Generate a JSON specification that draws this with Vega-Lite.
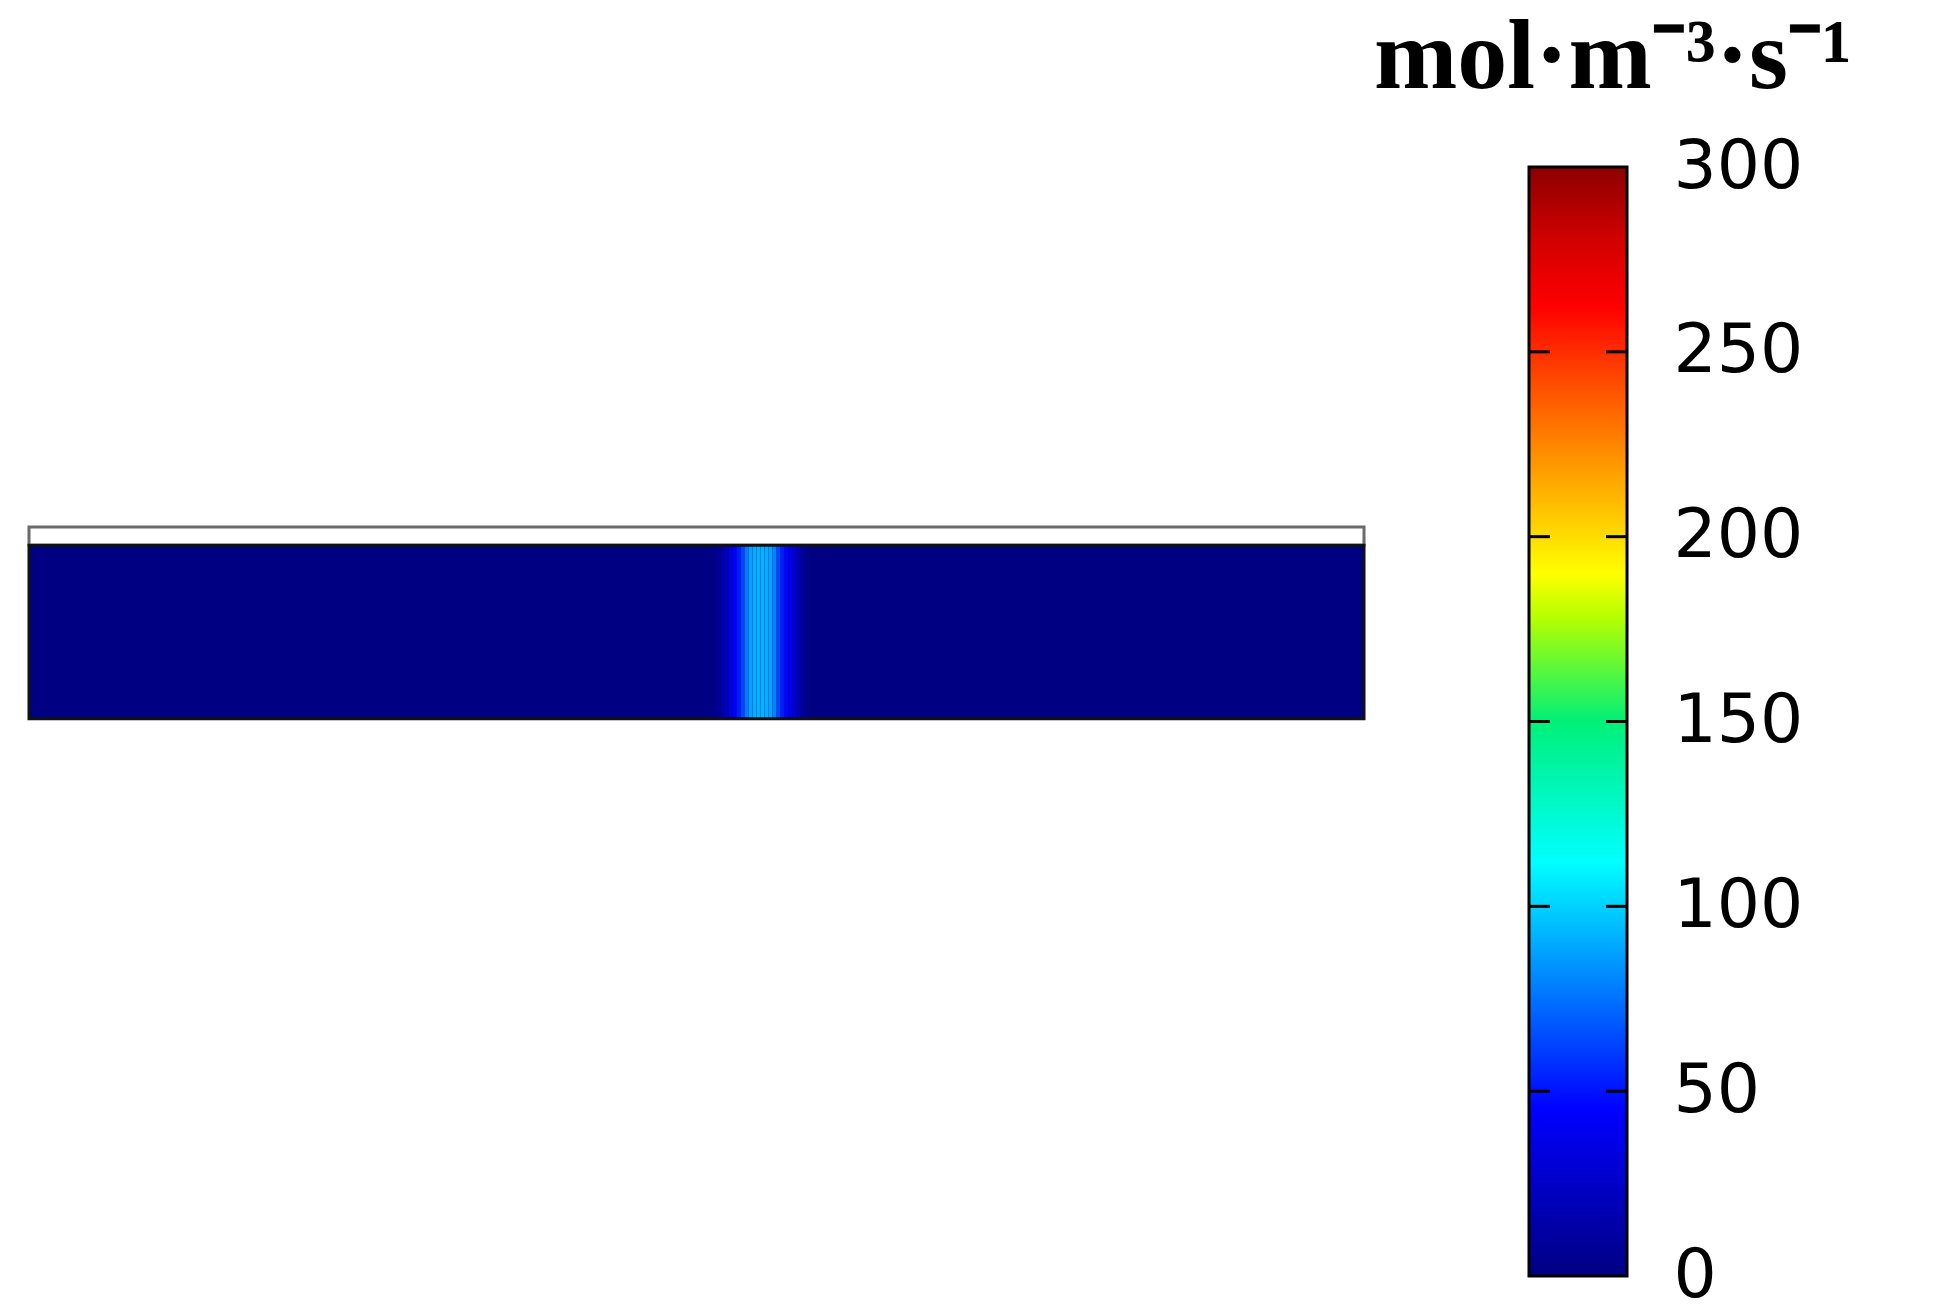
{
  "$schema": "https://vega.github.io/schema/vega-lite/v6.json",
  "background": "white",
  "padding": {"left": 27, "top": 8, "right": 5, "bottom": 5},
  "bounds": "flush",
  "spacing": 165,
  "config": {"view": {"stroke": null}},
  "datasets": {
    "field": [
      {"x0": 0, "x1": 100, "rate": 0},
      {"x0": 51.2, "x1": 51.5, "rate": 3},
      {"x0": 51.5, "x1": 51.8, "rate": 7},
      {"x0": 51.8, "x1": 52.1, "rate": 13},
      {"x0": 52.1, "x1": 52.4, "rate": 22},
      {"x0": 52.4, "x1": 52.7, "rate": 34},
      {"x0": 52.7, "x1": 53.0, "rate": 44},
      {"x0": 53.0, "x1": 53.3, "rate": 52},
      {"x0": 53.3, "x1": 53.6, "rate": 63},
      {"x0": 53.6, "x1": 53.9, "rate": 78},
      {"x0": 53.9, "x1": 54.2, "rate": 88},
      {"x0": 54.2, "x1": 54.5, "rate": 91},
      {"x0": 54.5, "x1": 54.8, "rate": 92},
      {"x0": 54.8, "x1": 55.1, "rate": 92},
      {"x0": 55.1, "x1": 55.4, "rate": 91},
      {"x0": 55.4, "x1": 55.7, "rate": 89},
      {"x0": 55.7, "x1": 56.0, "rate": 80},
      {"x0": 56.0, "x1": 56.3, "rate": 64},
      {"x0": 56.3, "x1": 56.6, "rate": 52},
      {"x0": 56.6, "x1": 56.9, "rate": 46},
      {"x0": 56.9, "x1": 57.2, "rate": 38},
      {"x0": 57.2, "x1": 57.5, "rate": 28},
      {"x0": 57.5, "x1": 57.8, "rate": 18},
      {"x0": 57.8, "x1": 58.1, "rate": 9},
      {"x0": 58.1, "x1": 58.4, "rate": 3}
    ],
    "ticks": [{"v": 50}, {"v": 100}, {"v": 150}, {"v": 200}, {"v": 250}]
  },
  "hconcat": [
    {
      "width": 1335,
      "height": 1109,
      "layer": [
        {
          "data": {"values": [{"x0": 0, "x1": 100, "y0": 13, "y1": 14.35}]},
          "mark": {"type": "rect", "fill": "white", "stroke": "#6b6b6b", "strokeWidth": 3},
          "encoding": {
            "x": {"field": "x0", "type": "quantitative", "scale": {"domain": [0, 100], "nice": false, "zero": false}, "axis": null},
            "x2": {"field": "x1"},
            "y": {"field": "y0", "type": "quantitative", "scale": {"domain": [-41.7, 41.3], "nice": false, "zero": false}, "axis": null},
            "y2": {"field": "y1"}
          }
        },
        {
          "data": {"name": "field"},
          "mark": {"type": "rect"},
          "encoding": {
            "x": {"field": "x0", "type": "quantitative", "axis": null},
            "x2": {"field": "x1"},
            "y": {"datum": 0, "type": "quantitative", "axis": null},
            "y2": {"datum": 13},
            "color": {
              "field": "rate",
              "type": "quantitative",
              "legend": null,
              "scale": {
                "domain": [0, 45, 112, 150, 178, 190, 220, 245, 262, 280, 300],
                "range": ["#000082", "#0000ff", "#00ffff", "#00f078", "#b4ff00", "#ffff00", "#ff9600", "#ff4000", "#ff0000", "#d20000", "#8c0000"],
                "interpolate": "rgb"
              }
            }
          }
        },
        {
          "data": {"values": [{"x0": 0, "x1": 100, "y0": 0, "y1": 13}]},
          "mark": {"type": "rect", "fill": null, "fillOpacity": 0, "stroke": "#111111", "strokeWidth": 3},
          "encoding": {
            "x": {"field": "x0", "type": "quantitative", "axis": null},
            "x2": {"field": "x1"},
            "y": {"field": "y0", "type": "quantitative", "axis": null},
            "y2": {"field": "y1"}
          }
        }
      ]
    },
    {
      "width": 98,
      "height": 1109,
      "title": {
        "text": "mol·m⁻³·s⁻¹",
        "anchor": "start",
        "frame": "group",
        "dx": -155,
        "offset": 24,
        "font": "Liberation Serif",
        "fontSize": 100,
        "fontWeight": "bold",
        "color": "black"
      },
      "layer": [
        {
          "data": {"values": [{"lo": 0, "hi": 300}]},
          "mark": {
            "type": "rect",
            "stroke": "black",
            "strokeWidth": 3,
            "fill": {
              "gradient": "linear",
              "x1": 0, "y1": 1, "x2": 0, "y2": 0,
              "stops": [
                {"offset": 0, "color": "#000082"},
                {"offset": 0.15, "color": "#0000ff"},
                {"offset": 0.3733, "color": "#00ffff"},
                {"offset": 0.5, "color": "#00f078"},
                {"offset": 0.5933, "color": "#b4ff00"},
                {"offset": 0.6333, "color": "#ffff00"},
                {"offset": 0.7333, "color": "#ff9600"},
                {"offset": 0.8167, "color": "#ff4000"},
                {"offset": 0.8733, "color": "#ff0000"},
                {"offset": 0.9333, "color": "#d20000"},
                {"offset": 1, "color": "#8c0000"}
              ]
            }
          },
          "encoding": {
            "x": {"datum": 0, "type": "quantitative", "scale": {"domain": [0, 1], "nice": false, "zero": false}, "axis": null},
            "x2": {"datum": 1},
            "y": {
              "field": "lo",
              "type": "quantitative",
              "scale": {"domain": [0, 300], "nice": false, "zero": false},
              "axis": {
                "orient": "right",
                "values": [0, 50, 100, 150, 200, 250, 300],
                "ticks": false,
                "domain": false,
                "grid": false,
                "title": null,
                "labelFont": "DejaVu Sans",
                "labelFontSize": 68,
                "labelColor": "black",
                "labelPadding": 46,
                "labelOverlap": false,
                "labelBound": false,
                "labelFlush": false
              }
            },
            "y2": {"field": "hi"}
          }
        },
        {
          "data": {"name": "ticks"},
          "mark": {"type": "rule", "stroke": "black", "strokeWidth": 3},
          "encoding": {
            "x": {"datum": 0, "type": "quantitative", "axis": null},
            "x2": {"datum": 0.214},
            "y": {
              "field": "v",
              "type": "quantitative",
              "axis": {
                "orient": "right",
                "values": [0, 50, 100, 150, 200, 250, 300],
                "ticks": false,
                "domain": false,
                "grid": false,
                "title": null,
                "labelFont": "DejaVu Sans",
                "labelFontSize": 68,
                "labelColor": "black",
                "labelPadding": 46,
                "labelOverlap": false,
                "labelBound": false,
                "labelFlush": false
              }
            }
          }
        },
        {
          "data": {"name": "ticks"},
          "mark": {"type": "rule", "stroke": "black", "strokeWidth": 3},
          "encoding": {
            "x": {"datum": 0.786, "type": "quantitative", "axis": null},
            "x2": {"datum": 1},
            "y": {
              "field": "v",
              "type": "quantitative",
              "axis": {
                "orient": "right",
                "values": [0, 50, 100, 150, 200, 250, 300],
                "ticks": false,
                "domain": false,
                "grid": false,
                "title": null,
                "labelFont": "DejaVu Sans",
                "labelFontSize": 68,
                "labelColor": "black",
                "labelPadding": 46,
                "labelOverlap": false,
                "labelBound": false,
                "labelFlush": false
              }
            }
          }
        }
      ]
    }
  ]
}
